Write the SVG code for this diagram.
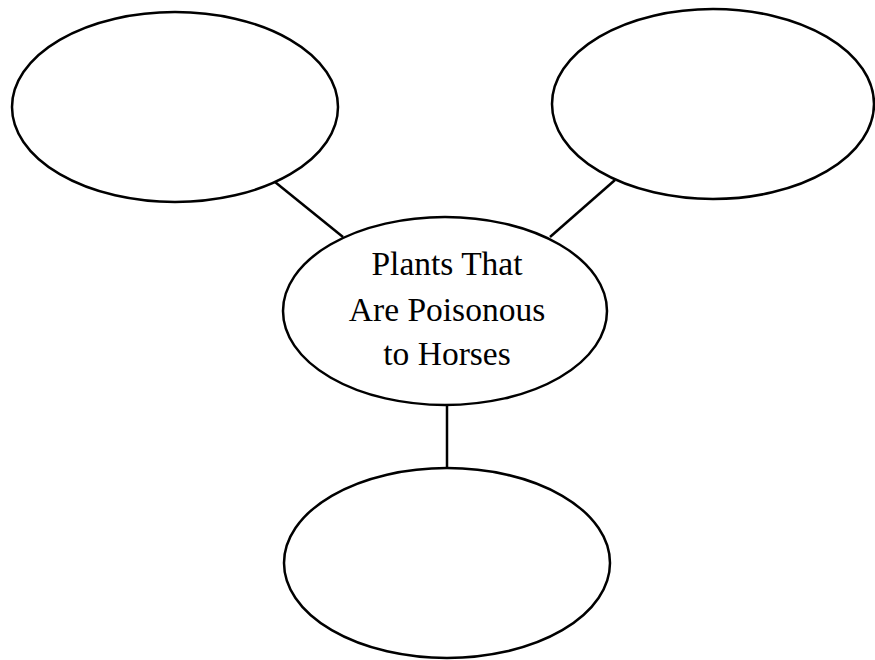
<svg xmlns="http://www.w3.org/2000/svg" width="875" height="660" viewBox="0 0 875 660">
<style>
.node{fill:#fff;stroke:#000;stroke-width:2.5}
.edge{stroke:#000;stroke-width:2.5;fill:none}
.lbl{font-family:"Liberation Serif","Times New Roman",serif;font-size:33.5px;fill:#000;text-anchor:middle}
</style>
<rect width="875" height="660" fill="#fff"/>
<g id="connectors">
<line class="edge" x1="275" y1="182" x2="343" y2="237"/>
<line class="edge" x1="615" y1="180" x2="550" y2="237"/>
<line class="edge" x1="447" y1="405" x2="447" y2="468"/>
</g>
<g id="node-top-left"><ellipse class="node" cx="175" cy="107" rx="163" ry="95"/></g>
<g id="node-top-right"><ellipse class="node" cx="713" cy="104" rx="161" ry="95"/></g>
<g id="node-center">
<ellipse class="node" cx="445" cy="311" rx="162" ry="94"/>
<text class="lbl" x="447" y="275">Plants That</text>
<text class="lbl" x="447" y="321">Are Poisonous</text>
<text class="lbl" x="447" y="365">to Horses</text>
</g>
<g id="node-bottom"><ellipse class="node" cx="447" cy="563" rx="163" ry="95"/></g>
</svg>
